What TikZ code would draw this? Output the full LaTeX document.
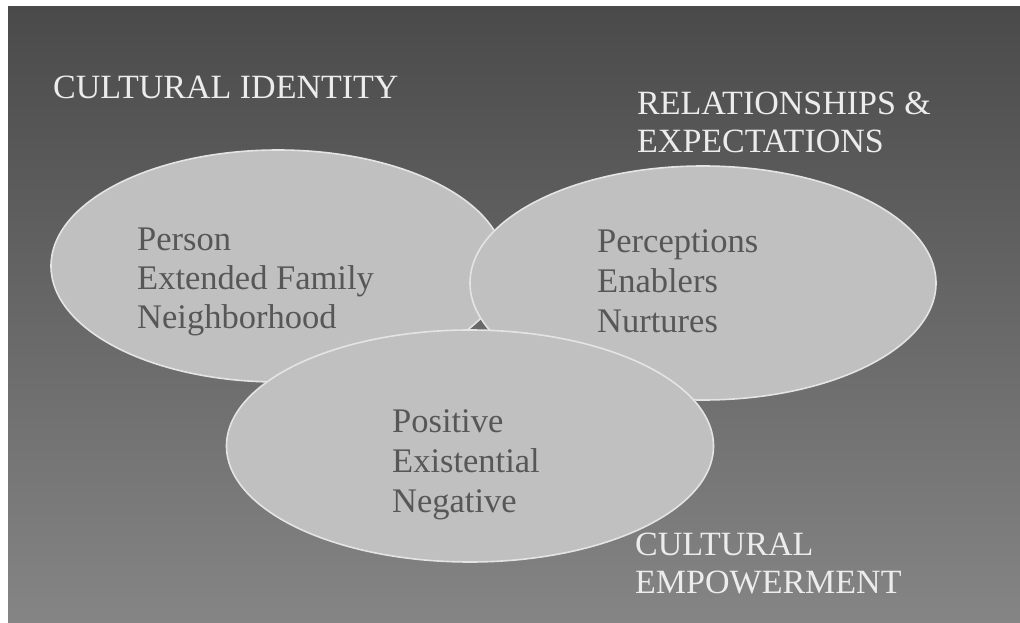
\documentclass[tikz,border=0pt]{standalone}
\usepackage{fontspec}
\setmainfont{Liberation Serif}
\usetikzlibrary{shapes.geometric}
\definecolor{bgtop}{HTML}{4A4A4A}
\definecolor{bgbottom}{HTML}{858585}
\definecolor{bubblefill}{HTML}{C0C0C0}
\definecolor{bubbleline}{HTML}{E4E4E4}
\definecolor{headtext}{HTML}{ECECEC}
\definecolor{itemtext}{HTML}{575757}
\begin{document}
\begin{tikzpicture}[x=1pt,y=-1pt,
  bubble/.style={ellipse, draw=bubbleline, line width=1.6pt, fill=bubblefill, inner sep=0pt},
  heading/.style={anchor=base west, inner sep=0pt, text=headtext, font=\fontsize{34}{40}\selectfont},
  item/.style={anchor=base west, inner sep=0pt, text=itemtext, font=\fontsize{34.5}{40}\selectfont}]
% page and shaded panel
\useasboundingbox (0,0) rectangle (1020,623);
\fill[white] (0,0) rectangle (1020,623);
\shade[top color=bgtop, bottom color=bgbottom] (8,7) rectangle (1020,623);

% three overlapping areas
\node[bubble, minimum width=454pt, minimum height=232pt] (identity) at (278,266) {};
\node[bubble, minimum width=466pt, minimum height=234pt] (relations) at (703,283) {};
\node[bubble, minimum width=487pt, minimum height=232pt] (empower) at (470,446) {};

% headings
\node[heading] (hIdentity) at (53,99) {CULTURAL IDENTITY};
\node[heading] (hRel1) at (637,115) {RELATIONSHIPS \&};
\node[heading] (hRel2) at (637,153) {EXPECTATIONS};
\node[heading] (hEmp1) at (635,555) {CULTURAL};
\node[heading] (hEmp2) at (635,593) {EMPOWERMENT};

% contents of each area
\node[item] (iA1) at (137,250) {Person};
\node[item] (iA2) at (137,289) {Extended Family};
\node[item] (iA3) at (137,328) {Neighborhood};

\node[item] (iB1) at (597,252) {Perceptions};
\node[item] (iB2) at (597,292) {Enablers};
\node[item] (iB3) at (597,332) {Nurtures};

\node[item] (iC1) at (392,432) {Positive};
\node[item] (iC2) at (392,472) {Existential};
\node[item] (iC3) at (392,512) {Negative};
\end{tikzpicture}
\end{document}
